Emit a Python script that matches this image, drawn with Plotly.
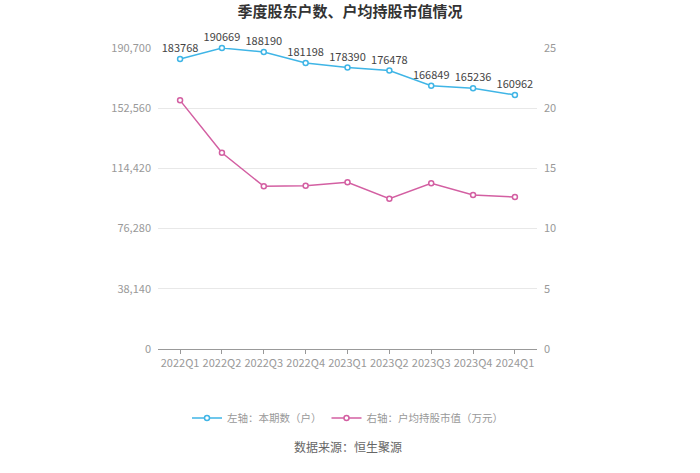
import plotly.graph_objects as go

quarters = ["2022Q1", "2022Q2", "2022Q3", "2022Q4", "2023Q1", "2023Q2", "2023Q3", "2023Q4", "2024Q1"]
holders = [183768, 190669, 188190, 181198, 178390, 176478, 166849, 165236, 160962]
avg_value = [20.65, 16.30, 13.51, 13.56, 13.84, 12.48, 13.76, 12.79, 12.62]
left_ticks = [0, 38140, 76280, 114420, 152560, 190700]
right_ticks = [0, 5, 10, 15, 20, 25]

blue = "#3fb5e6"
pink = "#d35fa2"
font_family = "Noto Sans CJK SC"

fig = go.Figure()
fig.add_trace(go.Scatter(
    x=quarters, y=holders, name="左轴：本期数（户）", mode="lines+markers+text",
    text=[str(v) for v in holders], textposition="top center",
    textfont=dict(size=11, color="#444444"),
    line=dict(color=blue, width=1.5),
    marker=dict(symbol="circle", size=5, color="white", line=dict(color=blue, width=1.5)),
    yaxis="y", cliponaxis=False,
))
fig.add_trace(go.Scatter(
    x=quarters, y=avg_value, name="右轴：户均持股市值（万元）", mode="lines+markers",
    line=dict(color=pink, width=1.5),
    marker=dict(symbol="circle", size=5, color="white", line=dict(color=pink, width=1.5)),
    yaxis="y2", cliponaxis=False,
))

fig.update_layout(
    width=700, height=473,
    margin=dict(l=158, r=163, t=48, b=124, autoexpand=False),
    paper_bgcolor="white", plot_bgcolor="white",
    font=dict(family=font_family, color="#999999", size=11),
    title=dict(text="<b>季度股东户数、户均持股市值情况</b>", x=0.5, xanchor="center",
               y=1 - 12 / 473, yanchor="middle", font=dict(size=15, color="#333333")),
    xaxis=dict(type="category", showgrid=False, showline=True, linecolor="#999999",
               ticks="outside", ticklen=4, tickcolor="#999999", tickangle=0,
               automargin=False, tickfont=dict(size=11, color="#999999")),
    yaxis=dict(range=[0, 190700], tickvals=left_ticks,
               ticktext=[f"{v:,}" for v in left_ticks], automargin=False,
               showgrid=True, gridcolor="#e8e8e8", zeroline=False, showline=False,
               ticks="", ticklabelstandoff=6,
               tickfont=dict(size=11, color="#999999")),
    yaxis2=dict(range=[0, 25], tickvals=right_ticks, overlaying="y", side="right",
                showgrid=False, zeroline=False, showline=False, automargin=False,
                ticklabelstandoff=6,
                tickfont=dict(size=11, color="#999999")),
    showlegend=True,
    legend=dict(orientation="h", x=0.5, xanchor="center", xref="paper",
                y=(349 - 418) / 301, yanchor="middle",
                font=dict(size=10.5, color="#999999")),
    annotations=[dict(text="数据来源：恒生聚源", x=0.5, xref="paper",
                      y=(349 - 457) / 301, yref="paper", showarrow=False,
                      font=dict(size=12, color="#666666"))],
)

fig.write_html("out.html")
